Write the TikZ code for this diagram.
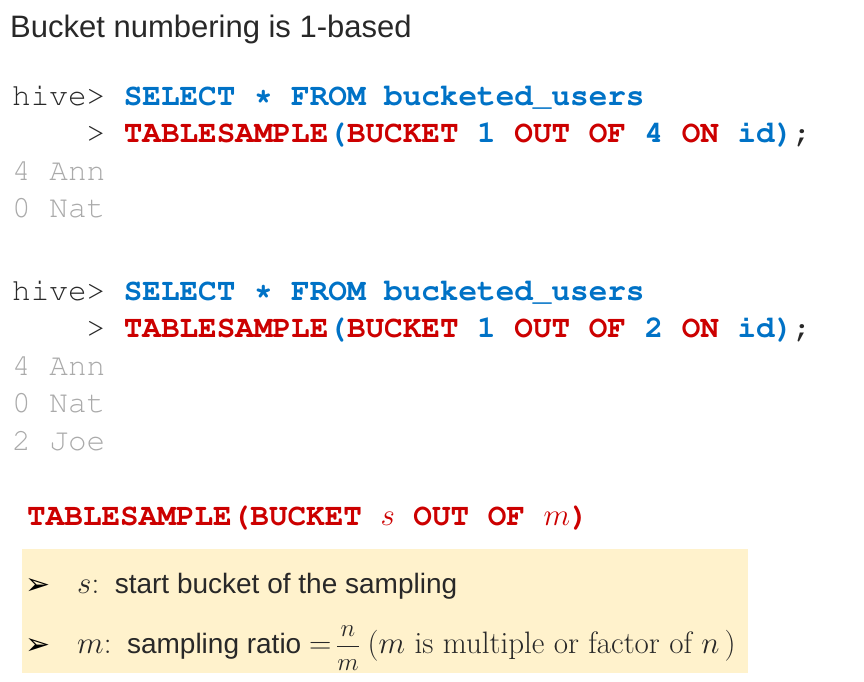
\RequirePackage{fix-cm}
\documentclass[tikz,border=0pt]{standalone}
\usepackage{fontspec}
\usepackage{amsmath}
\newfontfamily\titlefont{Liberation Sans}
\newfontfamily\bulletfont{DejaVu Sans}
\newcommand{\codefont}{\fontencoding{T1}\fontfamily{pcr}\selectfont}
\definecolor{sqlblue}{RGB}{0,114,198}
\definecolor{sqlred}{RGB}{204,0,0}
\definecolor{promptgray}{RGB}{40,40,40}
\definecolor{outgray}{RGB}{170,170,170}
\definecolor{notebg}{RGB}{255,242,204}
\tikzset{
  line/.style={anchor=base west, inner sep=0pt, font=\codefont\fontsize{31}{36}\selectfont},
  prompt/.style={line, text=promptgray},
  output/.style={line, text=outgray},
  note/.style={anchor=base west, inner sep=0pt, text=promptgray,
    font=\titlefont\fontsize{28}{32}\selectfont},
  bullet/.style={note, text=black, font=\bulletfont\fontsize{30}{32}\selectfont},
}
\newcommand{\kw}[1]{\textcolor{sqlred}{\bfseries #1}}
\newcommand{\ident}[1]{\textcolor{sqlblue}{\bfseries #1}}
\newcommand{\serif}[1]{{\rmfamily\fontsize{31}{34}\selectfont #1}}
\newcommand{\ratio}{{\rmfamily\fontsize{25}{28}\selectfont$\dfrac{n}{m}$}}
\begin{document}
\begin{tikzpicture}[x=1pt,y=-1pt]
    \useasboundingbox (0,0) rectangle (864,681);
    \node[note, font=\titlefont\fontsize{31}{36}\selectfont] (title) at (10,37)
          {Bucket numbering is 1-based};
    % first query
    \node[prompt] (qa1) at (12,105) {hive> \ident{SELECT * FROM bucketed\_users}};
    \node[prompt] (qa2) at (12,142) {\phantom{hive}> \kw{TABLESAMPLE}\ident{(}\kw{BUCKET}
          \ident{1} \kw{OUT OF} \ident{4} \kw{ON} \ident{id)};};
    \node[output] (ra1) at (12,180) {4 Ann};
    \node[output] (ra2) at (12,217) {0 Nat};
    % second query
    \node[prompt] (qb1) at (12,300) {hive> \ident{SELECT * FROM bucketed\_users}};
    \node[prompt] (qb2) at (12,337) {\phantom{hive}> \kw{TABLESAMPLE}\ident{(}\kw{BUCKET}
          \ident{1} \kw{OUT OF} \ident{2} \kw{ON} \ident{id)};};
    \node[output] (rb1) at (12,375) {4 Ann};
    \node[output] (rb2) at (12,412) {0 Nat};
    \node[output] (rb3) at (12,450) {2 Joe};
    % syntax and notes
    \node[line] (syntax) at (27,525) {\kw{TABLESAMPLE(BUCKET \serif{$s$} OUT OF \serif{$m$})}};
    \fill[notebg] (22,549) rectangle (748,673);
    \node[bullet] (bull1) at (25,594) {➢};
    \node[note] (note1) at (77,593) {\serif{$s$:}\ \ start bucket of the sampling};
    \node[bullet] (bull2) at (25,654) {➢};
    \node[note] (note2) at (77,653) {\serif{$m$:}\ \ sampling ratio \serif{$=$}\,\ratio\ 
          \serif{($m$ is multiple or factor of $n$\,)}};
\end{tikzpicture}
\end{document}
